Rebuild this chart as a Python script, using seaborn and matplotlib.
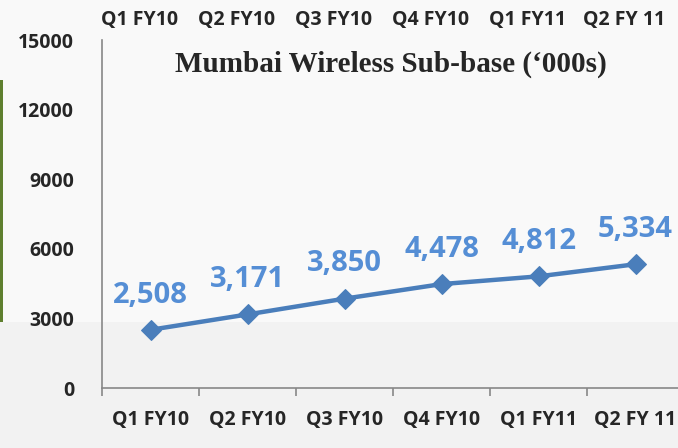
import matplotlib
matplotlib.use('Agg')
import matplotlib.pyplot as plt
import matplotlib.transforms as mtransforms
from matplotlib.patches import Rectangle
import seaborn as sns
import pandas as pd

# chart data
quarters = ['Q1 FY10', 'Q2 FY10', 'Q3 FY10', 'Q4 FY10', 'Q1 FY11', 'Q2 FY 11']
subs = [2508, 3171, 3850, 4478, 4812, 5334]
yticks = [0, 3000, 6000, 9000, 12000, 15000]

df = pd.DataFrame({'pos': range(len(quarters)), 'subs': subs})

sns.set_style('white')
plt.rcParams['font.family'] = ['Open Sans', 'DejaVu Sans']

fig = plt.figure(figsize=(6.78, 4.48), dpi=100, facecolor='#f2f2f2')

# lighter upper band of the slide and the green strip at left
fig.patches.append(Rectangle((0, 1 - 322 / 448), 1, 322 / 448, transform=fig.transFigure,
                             facecolor='#f9f9f9', edgecolor='none', zorder=-5))
fig.patches.append(Rectangle((0, 1 - 322 / 448), 3 / 678, 242 / 448, transform=fig.transFigure,
                             facecolor='#5f7f2f', edgecolor='none', zorder=-5))

ax = fig.add_axes([102 / 678, 1 - 388 / 448, 582 / 678, 348 / 448])
ax.patch.set_alpha(0)

sns.lineplot(data=df, x='pos', y='subs', ax=ax, color='#4a7ebb', linewidth=3.2,
             marker='D', markersize=10, markeredgecolor='#4a7ebb')

for i, v in enumerate(subs):
    ax.annotate(f'{v:,}', (i, v), xytext=(0, 25), textcoords='offset points',
                ha='center', va='center', fontsize=21, fontweight='bold', color='#558ed5')

ax.set_xlim(-0.5, len(quarters) - 0.5)
ax.set_ylim(0, 15000)
ax.set_yticks(yticks)
ax.set_yticklabels([str(t) for t in yticks], fontsize=14, fontweight='bold')

# ticks at category boundaries, labels at centers
ax.set_xticks([i - 0.5 for i in range(len(quarters) + 1)])
ax.set_xticklabels([])
ax.set_xticks(range(len(quarters)), minor=True)
ax.set_xticklabels(quarters, minor=True, fontsize=14, fontweight='bold')
ax.tick_params(axis='x', which='minor', length=0, pad=16)
ax.tick_params(axis='both', which='major', length=6, width=1.2, color='#888888', direction='out')
ax.tick_params(axis='y', pad=14)
ax.set_xlabel('')
ax.set_ylabel('')

for s in ['top', 'right']:
    ax.spines[s].set_visible(False)
for s in ['left', 'bottom']:
    ax.spines[s].set_color('#888888')
    ax.spines[s].set_linewidth(1.2)

# category labels repeated along the top, slightly shifted left
top = ax.twiny()
top.set_xlim(ax.get_xlim())
top.set_xticks(range(len(quarters)))
top.set_xticklabels(quarters, fontsize=14, fontweight='bold')
top.tick_params(axis='x', length=0, pad=7)
for s in top.spines.values():
    s.set_visible(False)
shift = mtransforms.ScaledTranslation(-11 / 100, 0, fig.dpi_scale_trans)
for lbl in top.get_xticklabels():
    lbl.set_transform(lbl.get_transform() + shift)

ax.set_title("Mumbai Wireless Sub-base (\u2018000s)", fontsize=21, fontweight='bold',
             family='Liberation Serif', x=(391 - 102) / 582, y=0.885)

fig.savefig('out.png', dpi=100, facecolor=fig.get_facecolor())
